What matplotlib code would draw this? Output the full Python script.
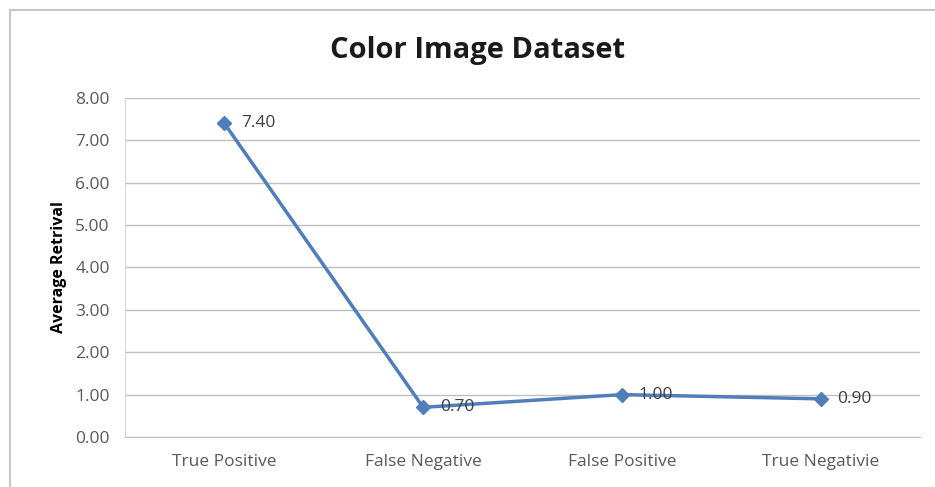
import matplotlib
matplotlib.use("Agg")
import matplotlib.pyplot as plt

categories = ["True Positive", "False Negative", "False Positive", "True Negativie"]
values = [7.40, 0.70, 1.00, 0.90]
yticks = [0, 1, 2, 3, 4, 5, 6, 7, 8]

BLUE = "#4F7EBB"
GREY = "#595959"

plt.rcParams["font.family"] = ["Open Sans", "DejaVu Sans"]

fig = plt.figure(figsize=(9.35, 4.87), dpi=100)
ax = fig.add_axes([0.1337, 0.1027, 0.8503, 0.6961])

x = range(len(categories))
ax.plot(x, values, color=BLUE, lw=2.5, marker="D", ms=7, zorder=3)
for xi, v in zip(x, values):
    ax.annotate(f"{v:.2f}", (xi, v), xytext=(12, 0), textcoords="offset points",
                va="center", ha="left", fontsize=12.5, color="#404040")

ax.set_xlim(-0.5, len(categories) - 0.5)
ax.set_ylim(0, 8)
ax.set_yticks(yticks)
ax.set_yticklabels([f"{t:.2f}" for t in yticks], fontsize=12.5, color=GREY)
ax.set_xticks(list(x))
ax.set_xticklabels(categories, fontsize=12.5, color=GREY)
ax.tick_params(length=0, pad=11)
ax.tick_params(axis="x", pad=12)
ax.grid(axis="y", color="#BFBFBF", lw=1)
ax.set_axisbelow(True)
for s in ["top", "right"]:
    ax.spines[s].set_visible(False)
ax.spines["left"].set_color("#D9D9D9")
ax.spines["bottom"].set_color("#BFBFBF")

ax.set_ylabel("Average Retrival", fontsize=11.5, fontweight="bold", color="black", labelpad=6)
fig.text(0.511, 0.897, "Color Image Dataset", ha="center", va="center",
         fontsize=21, fontweight="bold", color="#1a1a1a")

# faint spreadsheet frame around the chart
fig.add_artist(plt.Line2D([0.011, 1], [0.979, 0.979], color="#C8C8C8", lw=1.5))
fig.add_artist(plt.Line2D([0.011, 0.011], [0, 0.979], color="#C8C8C8", lw=1.5))

fig.savefig("out.png", dpi=100)
